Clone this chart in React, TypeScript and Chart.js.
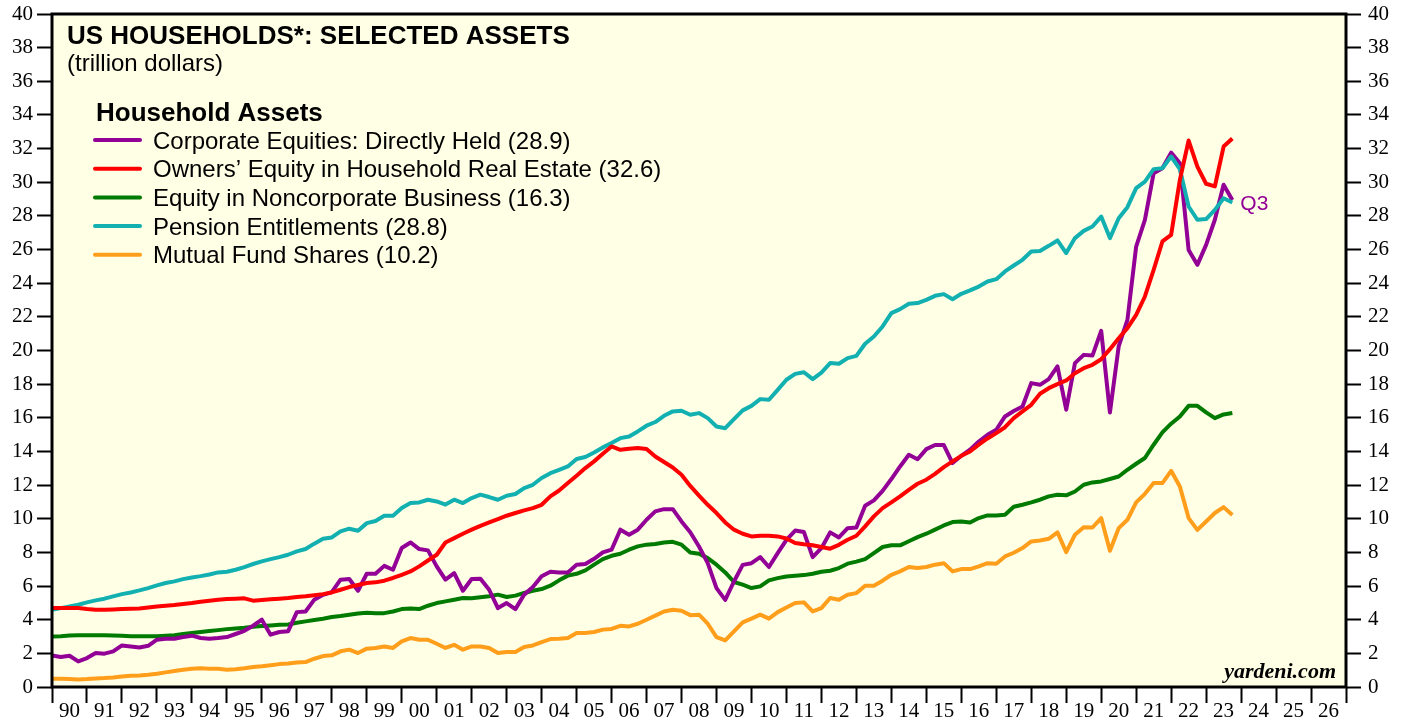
import React, { useEffect, useRef } from "react";
import { Chart, registerables } from "chart.js";

Chart.register(...registerables);

// ---- Data (trillion dollars, quarterly, end-of-quarter; first point = 1989Q4) ----
const FIRST_YEAR = 1990;
const QUARTER = 0.25;

const yearLabels = [
  "90", "91", "92", "93", "94", "95", "96", "97", "98", "99",
  "00", "01", "02", "03", "04", "05", "06", "07", "08", "09",
  "10", "11", "12", "13", "14", "15", "16", "17", "18", "19",
  "20", "21", "22", "23", "24", "25", "26",
];

const corporateEquities = [
  1.88, 1.78, 1.86, 1.52, 1.72, 2.02, 1.98, 2.12, 2.47, 2.41, 2.35, 2.45, 2.81, 2.87, 2.87, 2.97,
  3.05, 2.91, 2.87, 2.91, 2.97, 3.15, 3.34, 3.64, 4.0, 3.11, 3.27, 3.31, 4.45, 4.49, 5.19, 5.48,
  5.64, 6.38, 6.42, 5.72, 6.73, 6.73,
  7.2, 6.97, 8.26, 8.59, 8.2, 8.12, 7.17, 6.38, 6.77, 5.72, 6.42, 6.44, 5.78, 4.69, 4.99, 4.63,
  5.49, 5.94, 6.58, 6.85, 6.81, 6.81, 7.27, 7.31, 7.62, 8.0, 8.16, 9.35, 9.05, 9.35, 9.94, 10.44,
  10.57, 10.57, 9.84,
  9.2, 8.35,
  7.36, 5.88, 5.18, 6.27, 7.26, 7.36, 7.72, 7.13, 7.96, 8.75, 9.3, 9.21, 7.72, 8.25, 9.19, 8.89,
  9.44, 9.48, 10.77, 11.09, 11.66, 12.36, 13.11, 13.8, 13.54, 14.14, 14.38, 14.38, 13.31, 13.74,
  14.1, 14.59, 14.99, 15.29, 16.08, 16.4,
  16.67, 18.06, 17.96, 18.3, 19.05, 16.48, 19.25, 19.74, 19.7, 21.17, 16.32, 20.24, 21.82, 26.18,
  27.77, 30.54, 30.83, 31.76, 31.13, 25.98, 25.09, 26.28, 27.77, 29.85, 28.95,
];

const ownersEquityRealEstate = [
  4.69, 4.69, 4.69, 4.69, 4.63, 4.59, 4.59, 4.61, 4.63, 4.65, 4.67, 4.73, 4.79, 4.83, 4.87, 4.93,
  4.99, 5.07, 5.13, 5.19, 5.23, 5.25, 5.27, 5.13, 5.17, 5.21, 5.25, 5.29, 5.35, 5.39, 5.45, 5.52,
  5.62, 5.78, 5.94, 6.06, 6.18, 6.22,
  6.32, 6.48, 6.67, 6.87, 7.17, 7.52, 7.86, 8.59, 8.85, 9.11, 9.35, 9.58, 9.78, 9.98, 10.18, 10.34,
  10.5, 10.63, 10.83, 11.33, 11.68, 12.12, 12.56, 13.01, 13.41, 13.86, 14.3, 14.1, 14.16, 14.2,
  14.14, 13.7, 13.37, 13.05, 12.62,
  11.95, 11.38, 10.83, 10.34, 9.78, 9.35, 9.11, 8.95, 8.99, 8.99, 8.95, 8.83, 8.56, 8.48, 8.42,
  8.32, 8.22, 8.45, 8.75, 8.99, 9.55, 10.14, 10.63, 10.97, 11.33, 11.72, 12.08, 12.32, 12.67, 13.07,
  13.41, 13.74, 14.0, 14.4, 14.77, 15.09, 15.44, 15.98,
  16.38, 16.77, 17.43, 17.76, 18.0, 18.22, 18.65, 18.95, 19.15, 19.48, 20.08, 20.73, 21.33, 22.12,
  23.21, 24.79, 26.48, 26.87, 30.14, 32.48, 30.93, 29.91, 29.75, 32.12, 32.6,
];

const noncorporateBusiness = [
  3.0, 3.02, 3.06, 3.08, 3.08, 3.08, 3.08, 3.06, 3.05, 3.02, 3.02, 3.02, 3.02, 3.05, 3.08, 3.15,
  3.21, 3.27, 3.33, 3.38, 3.44, 3.48, 3.52, 3.58, 3.62, 3.66, 3.7, 3.72, 3.82, 3.9, 3.98, 4.06,
  4.16, 4.22, 4.3, 4.37, 4.41, 4.38,
  4.39, 4.49, 4.63, 4.67, 4.63, 4.83, 4.99, 5.09, 5.19, 5.29, 5.27, 5.33, 5.39, 5.49, 5.35, 5.43,
  5.59, 5.72, 5.82, 6.02, 6.34, 6.62, 6.73, 6.93, 7.27, 7.6, 7.8, 7.92, 8.16, 8.36, 8.46, 8.5,
  8.59, 8.63, 8.46,
  8.0, 7.92, 7.66, 7.27, 6.81, 6.24, 6.08, 5.88, 5.98, 6.34, 6.47, 6.57, 6.61, 6.65, 6.73, 6.85,
  6.91, 7.07, 7.33, 7.45, 7.6, 7.96, 8.32, 8.42, 8.42, 8.66, 8.91, 9.11, 9.35, 9.6, 9.8, 9.84,
  9.78, 10.04, 10.2, 10.2, 10.24, 10.71,
  10.83, 10.97, 11.13, 11.33, 11.43, 11.39, 11.62, 12.02, 12.16, 12.22, 12.36, 12.51, 12.91, 13.27,
  13.61, 14.4, 15.13, 15.65, 16.08, 16.71, 16.71, 16.32, 15.98, 16.2, 16.28,
];

const pensionEntitlements = [
  4.59, 4.69, 4.79, 4.89, 5.03, 5.15, 5.25, 5.39, 5.52, 5.62, 5.74, 5.88, 6.04, 6.18, 6.28, 6.41,
  6.51, 6.59, 6.69, 6.81, 6.85, 6.97, 7.13, 7.31, 7.47, 7.6, 7.72, 7.86, 8.06, 8.2, 8.52, 8.81,
  8.89, 9.25, 9.41, 9.29, 9.74, 9.87,
  10.18, 10.18, 10.64, 10.93, 10.97, 11.13, 11.03, 10.84, 11.13, 10.93, 11.23, 11.43, 11.29, 11.13,
  11.37, 11.47, 11.82, 12.02, 12.42, 12.71, 12.91, 13.11, 13.55, 13.67, 13.94, 14.24, 14.5, 14.79,
  14.89, 15.19, 15.53, 15.75, 16.12, 16.38, 16.42,
  16.18, 16.28, 15.98, 15.48, 15.38, 15.92, 16.44, 16.71, 17.11, 17.07, 17.66, 18.26, 18.61, 18.71,
  18.3, 18.69, 19.25, 19.21, 19.55, 19.68, 20.4, 20.83, 21.43, 22.22, 22.46, 22.78, 22.82, 23.01,
  23.25, 23.35, 23.05, 23.37, 23.57, 23.8, 24.1, 24.24, 24.7, 25.05,
  25.39, 25.88, 25.92, 26.22, 26.54, 25.79, 26.68, 27.11, 27.37, 27.96, 26.68, 27.86, 28.52, 29.65,
  30.04, 30.78, 30.83, 31.53, 30.78, 28.56, 27.77, 27.81, 28.36, 29.05, 28.8,
];

const mutualFundShares = [
  0.49, 0.49, 0.47, 0.45, 0.47, 0.51, 0.53, 0.57, 0.63, 0.67, 0.69, 0.73, 0.79, 0.87, 0.95, 1.03,
  1.09, 1.11, 1.09, 1.09, 1.03, 1.05, 1.11, 1.19, 1.23, 1.29, 1.36, 1.4, 1.46, 1.48, 1.68, 1.84,
  1.88, 2.12, 2.22, 2.02, 2.28, 2.32,
  2.41, 2.32, 2.71, 2.91, 2.81, 2.81, 2.57, 2.32, 2.51, 2.22, 2.41, 2.41, 2.32, 2.02, 2.08, 2.08,
  2.38, 2.47, 2.67, 2.85, 2.87, 2.91, 3.21, 3.21, 3.27, 3.41, 3.45, 3.64, 3.6, 3.76, 4.0, 4.24,
  4.49, 4.59, 4.53,
  4.27, 4.3, 3.76, 2.97, 2.77, 3.31, 3.84, 4.06, 4.3, 4.06, 4.45, 4.73, 4.99, 5.03, 4.49, 4.69,
  5.29, 5.19, 5.48, 5.58, 6.02, 6.02, 6.32, 6.67, 6.87, 7.13, 7.07, 7.13, 7.27, 7.36, 6.87, 7.01,
  7.01, 7.17, 7.36, 7.32, 7.76, 7.98,
  8.26, 8.65, 8.71, 8.81, 9.19, 8.02, 9.05, 9.5, 9.48, 10.04, 8.1, 9.44, 9.94, 10.97, 11.48, 12.12,
  12.12, 12.85, 11.92, 10.04, 9.34, 9.84, 10.34, 10.69, 10.22,
];

const seriesNames = [
  "Corporate Equities: Directly Held (28.9)",
  "Owners\u2019 Equity in Household Real Estate (32.6)",
  "Equity in Noncorporate Business (16.3)",
  "Pension Entitlements (28.8)",
  "Mutual Fund Shares (10.2)",
];
const seriesValues = [
  corporateEquities,
  ownersEquityRealEstate,
  noncorporateBusiness,
  pensionEntitlements,
  mutualFundShares,
];
const seriesColors = ["#920096", "#FF0000", "#007A00", "#12B0B0", "#FF9E1B"];
const drawOrder = [2, 0, 3, 1, 4]; // lower = drawn on top

const TITLE = "US HOUSEHOLDS*: SELECTED ASSETS";
const SUBTITLE = "(trillion dollars)";
const LEGEND_TITLE = "Household Assets";
const END_LABEL = "Q3";
const SOURCE = "yardeni.com";

const PLOT_BG = "#FFFFE6";
const SANS = "'Liberation Sans', Arial, sans-serif";
const SERIF = "'Liberation Serif', 'Times New Roman', serif";

const W = 1407;
const H = 717;

const overlayPlugin = {
  id: "overlay",
  beforeDraw(chart: any) {
    const { ctx, chartArea: a } = chart;
    ctx.save();
    ctx.fillStyle = "#FFFFFF";
    ctx.fillRect(0, 0, chart.width, chart.height);
    ctx.fillStyle = PLOT_BG;
    ctx.fillRect(a.left, a.top, a.right - a.left, a.bottom - a.top);
    ctx.restore();
  },
  afterDatasetsDraw(chart: any) {
    const { ctx, chartArea: a, scales } = chart;
    ctx.save();
    // frame
    ctx.strokeStyle = "#000";
    ctx.lineWidth = 3;
    ctx.strokeRect(a.left, a.top, a.right - a.left, a.bottom - a.top);

    // titles
    ctx.fillStyle = "#000";
    ctx.textAlign = "left";
    ctx.textBaseline = "alphabetic";
    ctx.font = `bold 26px ${SANS}`;
    ctx.fillText(TITLE, a.left + 15, a.top + 30);
    ctx.font = `24px ${SANS}`;
    ctx.fillText(SUBTITLE, a.left + 15, a.top + 57);

    // legend
    ctx.font = `bold 26px ${SANS}`;
    ctx.fillText(LEGEND_TITLE, a.left + 44, a.top + 107);
    ctx.font = `24px ${SANS}`;
    chart.data.datasets.forEach((ds: any, i: number) => {
      const y = a.top + 126 + i * 28.7;
      ctx.strokeStyle = ds.borderColor;
      ctx.lineWidth = 4;
      ctx.lineCap = "round";
      ctx.beginPath();
      ctx.moveTo(a.left + 43, y);
      ctx.lineTo(a.left + 88, y);
      ctx.stroke();
      ctx.fillStyle = "#000";
      ctx.fillText(ds.label, a.left + 101, y + 8.5);
    });

    // end label
    const first = chart.data.datasets[0];
    const last = first.data[first.data.length - 1];
    const px = scales.xl.getPixelForValue(last.x);
    const py = scales.y.getPixelForValue(last.y);
    ctx.fillStyle = seriesColors[0];
    ctx.font = `21px ${SANS}`;
    ctx.fillText(END_LABEL, px + 8, py + 10);

    // source
    ctx.fillStyle = "#000";
    ctx.textAlign = "right";
    ctx.font = `italic bold 22px ${SERIF}`;
    ctx.fillText(SOURCE, a.right - 10, a.bottom - 9);
    ctx.restore();
  },
};

const noScalePadding = (s: any) => {
  s.paddingTop = 0;
  s.paddingBottom = 0;
  s.paddingLeft = 0;
  s.paddingRight = 0;
};

export default function App() {
  const ref = useRef<HTMLCanvasElement | null>(null);

  useEffect(() => {
    if (!ref.current) return;
    const datasets = seriesValues.map((vals, i) => ({
      label: seriesNames[i],
      data: vals.map((v, k) => ({ x: FIRST_YEAR + k * QUARTER, y: v })),
      borderColor: seriesColors[i],
      backgroundColor: seriesColors[i],
      borderWidth: 4,
      pointRadius: 0,
      tension: 0,
      fill: false,
      borderJoinStyle: "round" as const,
      xAxisID: "xl",
      yAxisID: "y",
      order: drawOrder[i],
    }));

    const tickFont = { family: SERIF, size: 21 };
    const gridCommon = {
      drawOnChartArea: false,
      drawTicks: true,
      tickLength: 15,
      tickWidth: 2,
      tickColor: "#000",
      color: "#000",
    };

    const chart = new Chart(ref.current, {
      type: "line",
      data: { labels: yearLabels, datasets },
      options: {
        animation: false,
        responsive: false,
        devicePixelRatio: 1,
        events: [],
        layout: { padding: { top: 14, left: 0, right: 0, bottom: 0 } },
        plugins: {
          legend: { display: false },
          tooltip: { enabled: false },
          title: { display: false },
        },
        scales: {
          x: {
            type: "category",
            position: "bottom",
            offset: true,
            grid: { ...gridCommon, offset: true, tickLength: 16 },
            border: { display: false },
            ticks: {
              font: tickFont,
              color: "#000",
              padding: -4,
              maxRotation: 0,
              autoSkip: false,
            },
            afterFit: (s: any) => {
              s.height = 30;
              noScalePadding(s);
            },
          },
          xl: {
            type: "linear",
            display: false,
            min: 1990,
            max: 2027,
          },
          y: {
            type: "linear",
            position: "left",
            min: 0,
            max: 40,
            grid: gridCommon,
            border: { display: false },
            ticks: { stepSize: 2, font: tickFont, color: "#000", padding: 4 },
            afterFit: (s: any) => {
              s.width = 52;
              noScalePadding(s);
            },
          },
          y2: {
            type: "linear",
            position: "right",
            min: 0,
            max: 40,
            grid: gridCommon,
            border: { display: false },
            ticks: { stepSize: 2, font: tickFont, color: "#000", padding: 7 },
            afterFit: (s: any) => {
              s.width = 61;
              noScalePadding(s);
            },
          },
        },
      },
      plugins: [overlayPlugin],
    });
    return () => chart.destroy();
  }, []);

  return (
    <div style={{ position: "fixed", left: 0, top: 0, width: W, height: H, background: "#fff" }}>
      <canvas ref={ref} width={W} height={H} style={{ display: "block", width: W, height: H }} />
    </div>
  );
}
